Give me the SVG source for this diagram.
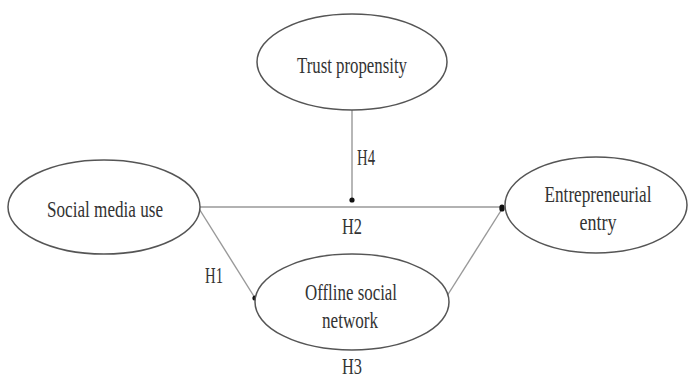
<svg xmlns="http://www.w3.org/2000/svg" width="689" height="380" viewBox="0 0 689 380">
<defs>
<marker id="dot" viewBox="0 0 6 6" refX="3" refY="3" markerWidth="6" markerHeight="6" markerUnits="userSpaceOnUse">
<circle cx="3" cy="3" r="2.6" fill="#111"/>
</marker>
<style>
.node ellipse{fill:#fff;stroke:#555;stroke-width:1.5}
.node text,.lbl{font-family:"Liberation Serif","Times New Roman",serif;font-size:23px;fill:#333;text-anchor:middle}
.conn line{stroke:#999;stroke-width:1.4;marker-end:url(#dot)}
</style>
</defs>
<rect width="689" height="380" fill="#fff"/>
<g id="connectors" class="conn">
<line x1="352" y1="110" x2="352" y2="200"/>
<line x1="200" y1="207" x2="502" y2="207"/>
<line x1="198" y1="207" x2="255" y2="298"/>
<line x1="447" y1="296" x2="502" y2="209"/>
</g>
<g id="trust" class="node">
<ellipse cx="352" cy="62" rx="95" ry="48"/>
<text x="352" y="73" textLength="110" lengthAdjust="spacingAndGlyphs">Trust propensity</text>
</g>
<g id="social" class="node">
<ellipse cx="104" cy="207" rx="96" ry="47"/>
<text x="105" y="217" textLength="116" lengthAdjust="spacingAndGlyphs">Social media use</text>
</g>
<g id="entry" class="node">
<ellipse cx="596" cy="205" rx="91" ry="48"/>
<text x="598" y="202" textLength="107" lengthAdjust="spacingAndGlyphs">Entrepreneurial</text>
<text x="598" y="230" textLength="37" lengthAdjust="spacingAndGlyphs">entry</text>
</g>
<g id="offline" class="node">
<ellipse cx="352" cy="302" rx="97" ry="48"/>
<text x="351" y="300" textLength="92" lengthAdjust="spacingAndGlyphs">Offline social</text>
<text x="350" y="328" textLength="56" lengthAdjust="spacingAndGlyphs">network</text>
</g>
<g id="labels">
<text class="lbl" x="366" y="165" textLength="18" lengthAdjust="spacingAndGlyphs">H4</text>
<text class="lbl" x="352" y="234" textLength="20" lengthAdjust="spacingAndGlyphs">H2</text>
<text class="lbl" x="214" y="283" textLength="18" lengthAdjust="spacingAndGlyphs">H1</text>
<text class="lbl" x="352" y="374" textLength="20" lengthAdjust="spacingAndGlyphs">H3</text>
</g>
</svg>
